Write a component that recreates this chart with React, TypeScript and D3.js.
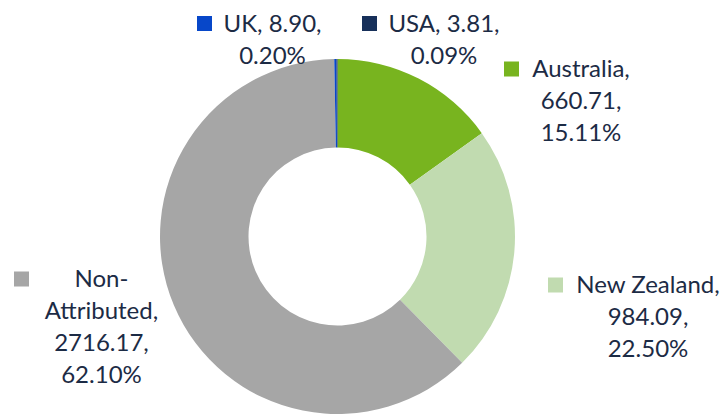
import React from "react";
import * as d3 from "d3";

const categories = ["Australia", "New Zealand", "Non-Attributed", "UK", "USA"];
const values = [660.71, 984.09, 2716.17, 8.9, 3.81];
const percents = [15.11, 22.5, 62.1, 0.2, 0.09];
const colors = ["#78B41F", "#C1DBB0", "#A6A6A6", "#0747C9", "#17305A"];

// label layout: text centre x, first baseline y, legend key x, and how the text wraps
const labelLayout = [
  { cx: 581, y0: 77, kx: 504, nameSplit: null, nameWithValue: false },
  { cx: 648, y0: 293, kx: 548, nameSplit: null, nameWithValue: false },
  { cx: 101.5, y0: 287, kx: 14, nameSplit: 4, nameWithValue: false },
  { cx: 272.5, y0: 31.5, kx: 197, nameSplit: null, nameWithValue: true },
  { cx: 444, y0: 31.5, kx: 362, nameSplit: null, nameWithValue: true },
];

const W = 723;
const H = 416;
const CX = 337.5;
const CY = 236.5;
const R_OUT = 177.5;
const R_IN = 89;
const LINE_H = 32;
const KEY = 15;
const FONT = "Lato, 'Open Sans', sans-serif";
const TEXT_COLOR = "#1C2B45";

function labelLines(i: number): string[] {
  const name = categories[i];
  const v = values[i].toFixed(2);
  const p = percents[i].toFixed(2) + "%";
  const lay = labelLayout[i];
  if (lay.nameWithValue) return [`${name}, ${v},`, p];
  const nameLines: string[] =
    lay.nameSplit != null
      ? [name.slice(0, lay.nameSplit), name.slice(lay.nameSplit) + ","]
      : [name + ","];
  return [...nameLines, v + ",", p];
}

export default function App() {
  const pie = d3
    .pie<number>()
    .sort(null)
    .value((d) => d)
    .startAngle(0)
    .endAngle(2 * Math.PI);
  const arcs = pie(values);
  const arc = d3.arc<d3.PieArcDatum<number>>().innerRadius(R_IN).outerRadius(R_OUT);

  return (
    <svg
      width={W}
      height={H}
      style={{ position: "absolute", left: 0, top: 0, display: "block", background: "#fff" }}
    >
      <g transform={`translate(${CX},${CY})`}>
        {arcs.map((a, i) => (
          <path key={categories[i]} d={arc(a) || ""} fill={colors[i]} />
        ))}
      </g>
      {categories.map((c, i) => {
        const lay = labelLayout[i];
        const lines = labelLines(i);
        return (
          <g key={c}>
            <rect x={lay.kx} y={lay.y0 - 8 - KEY / 2} width={KEY} height={KEY} fill={colors[i]} />
            <text
              x={lay.cx}
              y={lay.y0}
              textAnchor="middle"
              fontFamily={FONT}
              fontSize={24}
              fill={TEXT_COLOR}
            >
              {lines.map((l, j) => (
                <tspan key={j} x={lay.cx} y={lay.y0 + j * LINE_H}>
                  {l}
                </tspan>
              ))}
            </text>
          </g>
        );
      })}
    </svg>
  );
}
